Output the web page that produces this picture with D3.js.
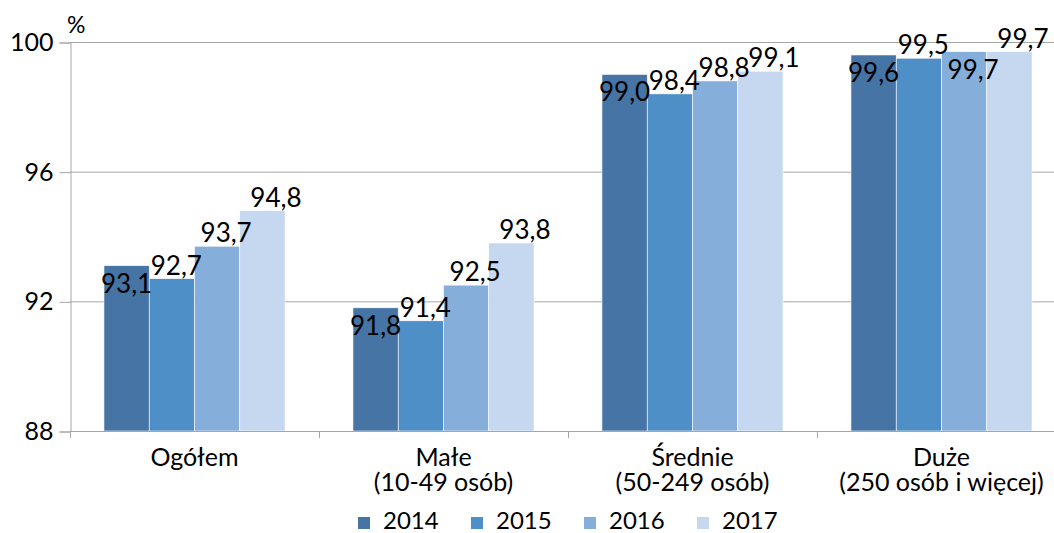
<!DOCTYPE html>
<html>
<head>
<meta charset="utf-8">
<script src="https://cdn.jsdelivr.net/npm/d3@7"></script>
<style>
    body { margin: 0; background: #fff; }
    svg { display: block; font-family: Lato, "Open Sans", sans-serif; }
</style>
</head>
<body>
<svg id="chart" width="1054" height="533"></svg>
<script>
    var categories = ["Ogółem", "Małe|(10-49 osób)", "Średnie|(50-249 osób)", "Duże|(250 osób i więcej)"];
    var years = ["2014", "2015", "2016", "2017"];
    var values2014 = [93.1, 91.8, 99.0, 99.6];
    var values2015 = [92.7, 91.4, 98.4, 99.5];
    var values2016 = [93.7, 92.5, 98.8, 99.7];
    var values2017 = [94.8, 93.8, 99.1, 99.7];
    var yTicks = [88, 92, 96, 100];
    var unitLabel = "%";

    var seriesValues = [values2014, values2015, values2016, values2017];
    var colors = ["#4674a5", "#4f8fc7", "#85aedb", "#c5d8ef"];

    // labels Excel put inside the bar top (category index, series index)
    var insideLabels = [[0, 0], [1, 0], [2, 0], [3, 0], [3, 2]];

    var svg = d3.select("#chart");
    var plotLeft = 70, plotTop = 42, plotBottom = 431, catStep = 249;
    var fontSize = 26;

    var x0 = d3.scaleBand().domain(categories).range([plotLeft, plotLeft + catStep * categories.length]).padding(0);
    var x1 = d3.scaleBand().domain(years).range([0, x0.bandwidth()]).paddingInner(0).paddingOuter(0.75);
    var y = d3.scaleLinear().domain([88, 100]).range([plotBottom, plotTop]);

    //gridlines
    svg.append("g").selectAll("line").data(yTicks).enter().append("line")
        .attr("x1", plotLeft).attr("x2", 1054)
        .attr("y1", function (d) { return y(d) + 0.5; })
        .attr("y2", function (d) { return y(d) + 0.5; })
        .attr("stroke", "#a6a6a6").attr("stroke-width", 1);

    //y axis
    var yAxis = svg.append("g")
        .attr("transform", "translate(" + (plotLeft + 0.5) + ",0.5)")
        .call(d3.axisLeft(y).tickValues(yTicks).tickSize(11).tickPadding(6).tickFormat(function (d) { return d; }));
    yAxis.select(".domain").attr("stroke", "#a6a6a6");
    yAxis.selectAll(".tick line").attr("stroke", "#a6a6a6");
    yAxis.selectAll("text").attr("font-size", fontSize - 1).attr("fill", "#000").attr("font-family", "Lato");

    svg.append("text").attr("x", 67).attr("y", 33).attr("font-size", 23).text(unitLabel);

    //bars
    var groups = svg.append("g").selectAll("g").data(categories).enter().append("g")
        .attr("transform", function (d) { return "translate(" + x0(d) + ",0)"; });

    groups.each(function (cat, ci) {
        var g = d3.select(this);
        years.forEach(function (yr, si) {
            var v = seriesValues[si][ci];
            g.append("rect")
                .attr("x", x1(yr))
                .attr("y", y(v))
                .attr("width", x1.bandwidth())
                .attr("height", y(88) - y(v))
                .attr("fill", colors[si])
                .attr("stroke", "#fff").attr("stroke-width", 0.6);
        });
    });

    //value labels
    groups.each(function (cat, ci) {
        var g = d3.select(this);
        years.forEach(function (yr, si) {
            var v = seriesValues[si][ci];
            var inside = insideLabels.some(function (p) { return p[0] === ci && p[1] === si; });
            g.append("text")
                .attr("x", x1(yr) + x1.bandwidth() / 2 + si * 4.5)
                .attr("y", inside ? y(v) + 27 : y(v) - 4)
                .attr("text-anchor", "middle")
                .attr("font-size", fontSize)
                .text(d3.format(".1f")(v).replace(".", ","));
        });
    });

    //x axis
    svg.append("line").attr("x1", plotLeft).attr("x2", 1054).attr("y1", plotBottom + 0.5).attr("y2", plotBottom + 0.5)
        .attr("stroke", "#a6a6a6");
    svg.append("g").selectAll("line").data(categories).enter().append("line")
        .attr("x1", function (d) { return x0(d) + 0.5; })
        .attr("x2", function (d) { return x0(d) + 0.5; })
        .attr("y1", plotBottom).attr("y2", plotBottom + 7)
        .attr("stroke", "#a6a6a6");

    //category labels, one text per line
    categories.forEach(function (cat) {
        cat.split("|").forEach(function (ln, i) {
            svg.append("text")
                .attr("x", x0(cat) + x0.bandwidth() / 2)
                .attr("y", 466 + i * 25)
                .attr("text-anchor", "middle")
                .attr("font-size", 25)
                .text(ln);
        });
    });

    //legend
    var legend = svg.append("g").selectAll("g").data(years).enter().append("g")
        .attr("transform", function (d, i) { return "translate(" + (358 + i * 113) + ",517)"; });
    legend.append("rect").attr("width", 12).attr("height", 12)
        .attr("fill", function (d, i) { return colors[i]; });
    legend.append("text").attr("x", 25).attr("y", 12).attr("font-size", 24).text(function (d) { return d; });
</script>
</body>
</html>
